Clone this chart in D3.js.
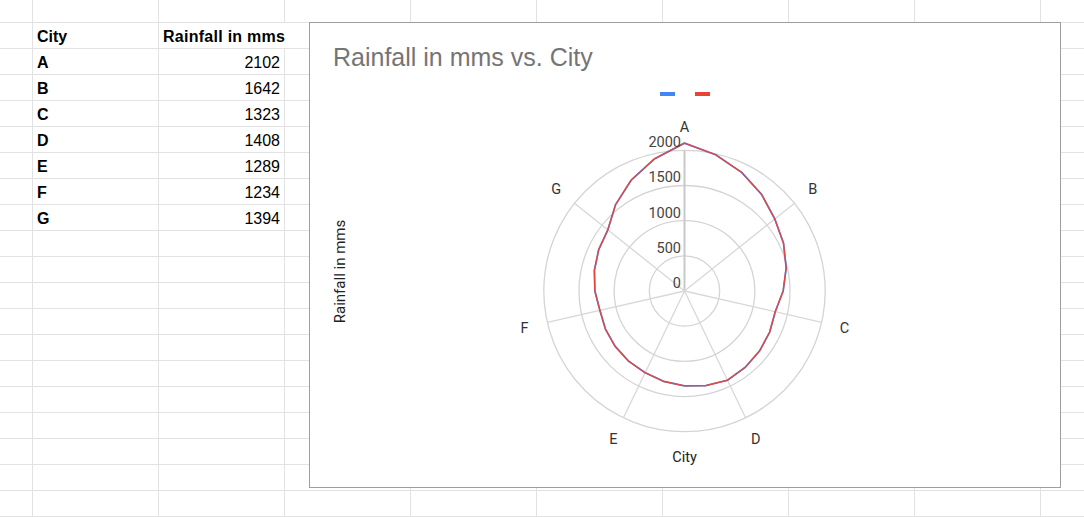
<!DOCTYPE html>
<html>
<head>
<meta charset="utf-8">
<script src="https://cdn.jsdelivr.net/npm/d3@7"></script>
<style>
  html, body { margin: 0; padding: 0; background: #fff; }
  svg { display: block; }
</style>
</head>
<body>
<svg id="page" width="1084" height="517"></svg>
<script>
// sheet data
var headers = ["City", "Rainfall in mms"];
var cities = ["A", "B", "C", "D", "E", "F", "G"];
var rainfall = [2102, 1642, 1323, 1408, 1289, 1234, 1394];
// second (hidden) series sits under the red one
var seriesColors = ["#4285f4", "#ea4335"];
var radialTicks = [0, 500, 1000, 1500, 2000];
var chartTitle = "Rainfall in mms vs. City";

var svg = d3.select("#page");

// spreadsheet grid
var colX = d3.range(9).map(function (k) { return 32.5 + 126 * k; });
var rowY = d3.range(20).map(function (k) { return 22.5 + 26 * k; });
var grid = svg.append("g").attr("stroke", "#e2e2e2").attr("stroke-width", 1);
colX.forEach(function (x) {
  if (x === 284.5) {
    // header text overflows this column line in row 2
    grid.append("line").attr("x1", x).attr("x2", x).attr("y1", 0).attr("y2", 22.5);
    grid.append("line").attr("x1", x).attr("x2", x).attr("y1", 48.5).attr("y2", 517);
  } else {
    grid.append("line").attr("x1", x).attr("x2", x).attr("y1", 0).attr("y2", 517);
  }
});
rowY.forEach(function (y) {
  grid.append("line").attr("x1", 0).attr("x2", 1084).attr("y1", y).attr("y2", y);
});

// table text
var table = svg.append("g").attr("font-family", "'Liberation Sans', Arial, sans-serif")
  .attr("font-size", 16).attr("fill", "#000");
table.append("text").attr("x", 37).attr("y", 42).attr("font-weight", "bold").text(headers[0]);
table.append("text").attr("x", 163).attr("y", 42).attr("font-weight", "bold")
  .attr("textLength", 122).text(headers[1]);
cities.forEach(function (c, i) {
  var y = 68 + 26 * i;
  table.append("text").attr("x", 37).attr("y", y).attr("font-weight", "bold").text(c);
  table.append("text").attr("x", 280).attr("y", y).attr("text-anchor", "end").text(rainfall[i]);
});

// chart box
svg.append("rect")
  .attr("x", 309.5).attr("y", 22.5).attr("width", 751).attr("height", 465)
  .attr("fill", "#fff").attr("stroke", "#9e9e9e").attr("stroke-width", 1);

svg.append("text")
  .attr("x", 333).attr("y", 66)
  .attr("font-family", "'Liberation Sans', Arial, sans-serif")
  .attr("font-size", 25).attr("fill", "#757575")
  .text(chartTitle);

// legend (no labels in the reference)
seriesColors.forEach(function (col, i) {
  svg.append("rect")
    .attr("x", 660 + 35 * i).attr("y", 92).attr("width", 15).attr("height", 4)
    .attr("fill", col);
});

// polar plot
var cx = 684.5, cy = 291;
var rScale = d3.scaleLinear().domain([0, 2000]).range([0, 140.7]);
var aScale = d3.scaleBand().domain(cities).range([0, 2 * Math.PI]).align(0);
var outerR = rScale(d3.max(radialTicks));

var plot = svg.append("g").attr("transform", "translate(" + cx + "," + cy + ")");

plot.selectAll("circle.ring")
  .data(radialTicks.slice(1))
  .enter().append("circle")
  .attr("class", "ring")
  .attr("r", function (d) { return rScale(d); })
  .attr("fill", "none").attr("stroke", "#d4d4d4").attr("stroke-width", 1.3);

plot.selectAll("line.spoke")
  .data(cities)
  .enter().append("line")
  .attr("class", "spoke")
  .attr("x1", 0).attr("y1", 0)
  .attr("x2", function (d) { return outerR * Math.sin(aScale(d)); })
  .attr("y2", function (d) { return -outerR * Math.cos(aScale(d)); })
  .attr("stroke", function (d, i) { return i === 0 ? "#c8c8c8" : "#d8d8d8"; })
  .attr("stroke-width", function (d, i) { return i === 0 ? 2 : 1.3; });

// closed line drawn as short chords along the polar grid between points
function curvePolarClosed(context) {
  return {
    areaStart: function () {},
    areaEnd: function () {},
    lineStart: function () { this.pts = []; },
    point: function (x, y) { this.pts.push([Math.hypot(x, y), Math.atan2(y, x)]); },
    lineEnd: function () {
      var p = this.pts, n = p.length, steps = 4;
      context.moveTo(p[0][0] * Math.cos(p[0][1]), p[0][0] * Math.sin(p[0][1]));
      for (var i = 0; i < n; i++) {
        var a = p[i], b = p[(i + 1) % n];
        var da = b[1] - a[1];
        while (da > Math.PI) da -= 2 * Math.PI;
        while (da < -Math.PI) da += 2 * Math.PI;
        for (var s = 1; s <= steps; s++) {
          var t = s / steps;
          var rr = a[0] + (b[0] - a[0]) * t;
          var aa = a[1] + da * t;
          context.lineTo(rr * Math.cos(aa), rr * Math.sin(aa));
        }
      }
      context.closePath();
    }
  };
}

var radial = d3.lineRadial()
  .angle(function (d, i) { return aScale(cities[i]); })
  .radius(function (d) { return rScale(d); })
  .curve(curvePolarClosed);

plot.append("path").datum(rainfall)
  .attr("d", radial).attr("fill", "none")
  .attr("stroke", seriesColors[0]).attr("stroke-width", 1.7)
  .attr("stroke-linejoin", "round");
plot.append("path").datum(rainfall)
  .attr("d", radial).attr("fill", "none")
  .attr("stroke", "#e4473f").attr("stroke-width", 1.4)
  .attr("stroke-linejoin", "round");

// radial tick labels
plot.selectAll("text.tick")
  .data(radialTicks)
  .enter().append("text")
  .attr("class", "tick")
  .attr("x", -3.5)
  .attr("y", function (d) { return -rScale(d) - 3; })
  .attr("text-anchor", "end")
  .attr("font-family", "Roboto, sans-serif").attr("font-size", 14.5).attr("fill", "#444")
  .text(function (d) { return d; });

// category labels
var labelR = 164;
plot.selectAll("text.cat")
  .data(cities)
  .enter().append("text")
  .attr("class", "cat")
  .attr("x", function (d) { return labelR * Math.sin(aScale(d)); })
  .attr("y", function (d) { return -labelR * Math.cos(aScale(d)); })
  .attr("dy", "0.35em")
  .attr("text-anchor", "middle")
  .attr("font-family", "Roboto, sans-serif").attr("font-size", 14.5).attr("fill", "#333")
  .text(function (d) { return d; });

// axis titles
svg.append("text")
  .attr("x", cx).attr("y", 462)
  .attr("text-anchor", "middle")
  .attr("font-family", "Roboto, sans-serif").attr("font-size", 14.5).attr("fill", "#222")
  .text("City");
svg.append("text")
  .attr("transform", "translate(345,271.5) rotate(-90)")
  .attr("text-anchor", "middle")
  .attr("font-family", "Roboto, sans-serif").attr("font-size", 15).attr("fill", "#222")
  .text("Rainfall in mms");
</script>
</body>
</html>
